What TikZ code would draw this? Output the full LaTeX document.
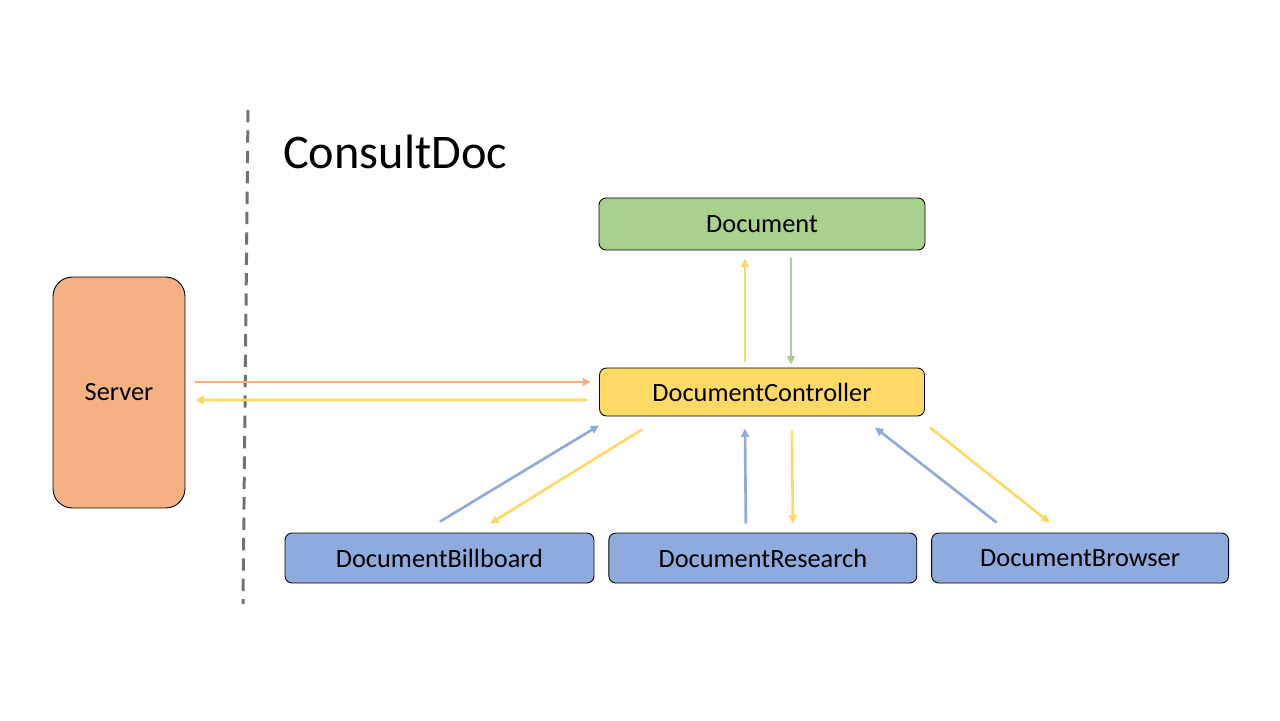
\documentclass[tikz,border=0pt]{standalone}
\usepackage{fontspec}
\setmainfont{Carlito}
\usetikzlibrary{arrows.meta,positioning}
\definecolor{docgreen}{HTML}{A9D18E}
\definecolor{ctrlyellow}{HTML}{FFD966}
\definecolor{serverorange}{HTML}{F4B183}
\definecolor{viewblue}{HTML}{8FAADC}
\definecolor{dividergray}{HTML}{767171}
\tikzset{
    %Define standard arrow tip
    >={Triangle[length=4.8pt,width=4.5pt]},
    %Define style for boxes
    classnode/.style={
             rectangle, rounded corners=4pt,
             draw=black, line width=0.5pt,
             inner sep=0pt, minimum height=1cm,
             font=\fontsize{15}{18}\selectfont},
    servernode/.style={
             classnode, rounded corners=11pt,
             fill=serverorange,
             minimum width=2.64cm, minimum height=4.62cm},
    % Define arrow style
    callarrow/.style={
            ->,
            line width=1.5pt},
    divider/.style={
            dividergray,
            line width=1.7pt,
            dash pattern=on 7pt off 4.6pt}
}
\begin{document}
\begin{tikzpicture}[x=0.02cm, y=-0.02cm]
    \useasboundingbox (0,0) rectangle (1280,720);
    % title and server side
    \node[anchor=base west, font=\fontsize{27.5}{32}\selectfont] (title) at (277,168) {ConsultDoc};
    \node[servernode] (server) at (119,392.5) {Server};
    \coordinate (divtop) at (248,110);
    \coordinate (divbottom) at (243,604);
    \draw[divider] (divtop) -- (divbottom);
    % model and controller
    \node[classnode, fill=docgreen, minimum width=6.52cm, minimum height=1.04cm] (document) at (762,224) {Document};
    \node[classnode, fill=ctrlyellow, minimum width=6.5cm, minimum height=0.96cm] (controller) at (762,392) {DocumentController};
    % views
    \node[classnode, fill=viewblue, minimum width=6.18cm] (billboard) at (439.5,558) {DocumentBillboard};
    \node[classnode, fill=viewblue, minimum width=6.16cm, right=0.28cm of billboard] (research) {DocumentResearch};
    \node[classnode, fill=viewblue, minimum width=5.94cm, right=0.28cm of research] (browser) {DocumentBrowser};
    % connectors
    \draw[callarrow, ctrlyellow] ([shift={(-17,-6)}]controller.north) -- ([shift={(-17,8)}]document.south);
    \draw[callarrow, docgreen] ([shift={(29,8)}]document.south) -- ([shift={(29,-3)}]controller.north);
    \draw[callarrow, serverorange] ([shift={(10,-10.5)}]server.east) -- ([shift={(-8,-10)}]controller.west);
    \draw[callarrow, ctrlyellow] ([shift={(-12,8)}]controller.west) -- ([shift={(10,7.5)}]server.east);
    \draw[callarrow, viewblue] ([shift={(0.5,-11)}]billboard.north) -- ([shift={(0,9)}]controller.south west);
    \draw[callarrow, ctrlyellow] ([shift={(43,13)}]controller.south west) -- ([shift={(50.5,-9)}]billboard.north);
    \draw[callarrow, viewblue] ([shift={(-17,-9)}]research.north) -- ([shift={(-17,12)}]controller.south);
    \draw[callarrow, ctrlyellow] ([shift={(30,14)}]controller.south) -- ([shift={(30,-9)}]research.north);
    \draw[callarrow, viewblue] ([shift={(-83.5,-10)}]browser.north) -- ([shift={(-50,11)}]controller.south east);
    \draw[callarrow, ctrlyellow] ([shift={(5,11)}]controller.south east) -- ([shift={(-30.5,-10)}]browser.north);
\end{tikzpicture}
\end{document}
